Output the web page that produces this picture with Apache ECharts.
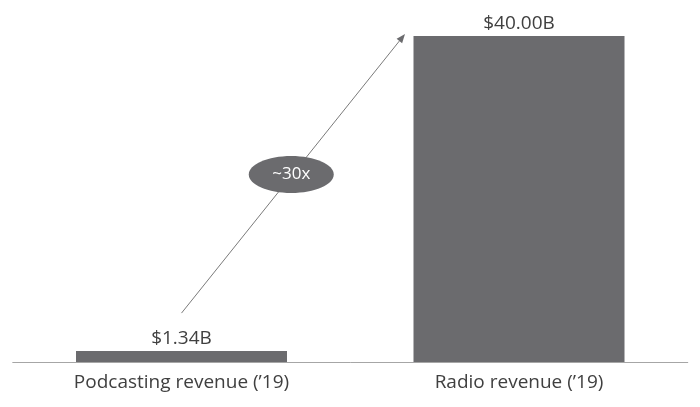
<!DOCTYPE html>
<html><head><meta charset="utf-8">
<script src="https://cdn.jsdelivr.net/npm/echarts@6/dist/echarts.min.js"></script>
<style>html,body{margin:0;padding:0;background:#fff}#c{width:700px;height:407px}</style>
</head><body><div id="c"></div>
<script>
var categories = ["Podcasting revenue (\u201919)", "Radio revenue (\u201919)"];
var revenue = [1.34, 40.00];
var labels = ["$1.34B", "$40.00B"];
var ratioLabel = "~30x";

var chart = echarts.init(document.getElementById('c'), null, {renderer:'canvas'});
var font = '"Open Sans", "Liberation Sans", sans-serif';
chart.setOption({
  animation: false,
  grid: {left: 12.75, right: 12.25, top: 36, bottom: 45},
  xAxis: {
    type: 'category', data: categories,
    axisLine: {lineStyle: {color: '#a6a6a6', width: 1}},
    axisTick: {show: false},
    axisLabel: {color: '#404040', fontSize: 19, fontFamily: font, margin: 11}
  },
  yAxis: {type: 'value', min: 0, max: 40, show: false, splitLine: {show: false}},
  series: [{
    type: 'bar', data: revenue, barWidth: 211,
    itemStyle: {color: '#6b6b6e'},
    label: {show: true, position: 'top', distance: 3, color: '#404040', fontSize: 19, fontFamily: font,
      formatter: function(p){ return labels[p.dataIndex]; }}
  }]
});

var p0 = chart.convertToPixel({gridIndex:0}, [0, 6]);
var p1 = chart.convertToPixel({gridIndex:0}, [1, 40]);
var x0 = p0[0], y0 = p0[1];
var x1 = p1[0] - 114, y1 = p1[1] - 2;
var ang = Math.atan2(y1 - y0, x1 - x0);
var ah = 9, aw = 3.5;
var bx = x1 - ah*Math.cos(ang), by = y1 - ah*Math.sin(ang);
var nx = -Math.sin(ang), ny = Math.cos(ang);
var t = 0.5;
var cx = x0 + (x1-x0)*t - 2, cy = y0 + (y1-y0)*t + 1;
chart.setOption({
  graphic: [
    {type:'line', shape:{x1:x0, y1:y0, x2:bx, y2:by}, style:{stroke:'#7a7a7a', lineWidth:1}, z:10},
    {type:'polygon', shape:{points:[[x1,y1],[bx+nx*aw,by+ny*aw],[bx-nx*aw,by-ny*aw]]}, style:{fill:'#6b6b6e'}, z:10},
    {type:'ellipse', shape:{cx:cx, cy:cy, rx:42.5, ry:18.5}, style:{fill:'#6b6b6e'}, z:11},
    {type:'text', x:cx, y:cy, style:{text:ratioLabel, fill:'#ffffff', fontSize:17, fontFamily:font, align:'center', verticalAlign:'middle'}, z:12}
  ]
});
</script></body></html>
